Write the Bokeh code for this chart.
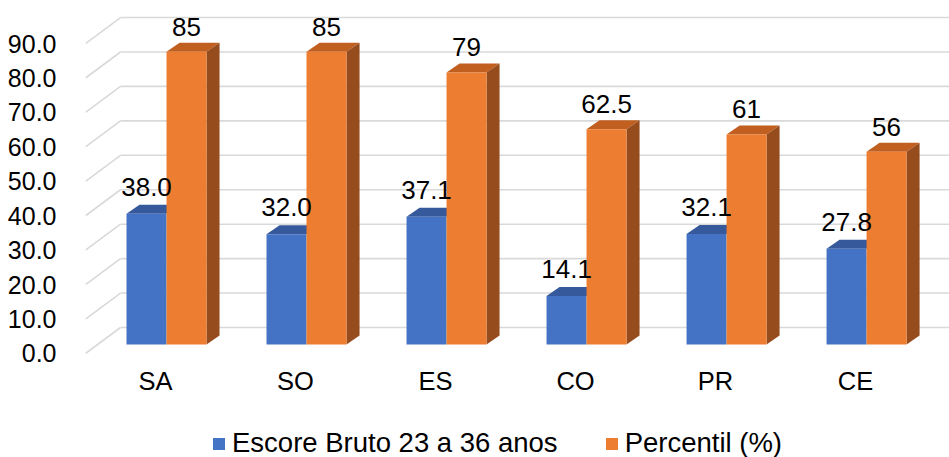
from bokeh.plotting import figure
from bokeh.models import FixedTicker, PrintfTickFormatter, Legend, LegendItem
from bokeh.core.properties import value
from bokeh.embed import file_html
from bokeh.resources import INLINE

categories = ["SA", "SO", "ES", "CO", "PR", "CE"]
escore = [38.0, 32.0, 37.1, 14.1, 32.1, 27.8]
percentil = [85, 85, 79, 62.5, 61, 56]
y_ticks = [0, 10, 20, 30, 40, 50, 60, 70, 80, 90]
series_names = ["Escore Bruto 23 a 36 anos", "Percentil (%)"]

FONT = "Liberation Sans"
BLUE, BLUE_TOP = "#4472C4", "#35599A"
ORANGE, ORANGE_TOP, ORANGE_SIDE = "#ED7D31", "#C05F1F", "#974C1D"
GRID = "#D9D9D9"

# 3D geometry (data units)
DX, DY = 0.25, 7.55      # wall depth
SX, SY = 0.0786, 2.61    # bar front-face offset
BDX, BDY = 0.093, 2.61   # bar depth
W = 0.2857               # bar width

p = figure(width=949, height=457, x_range=(-0.5, 5.671), y_range=(-30.2, 102.5),
           output_backend="svg", toolbar_location=None,
           min_border_left=85, min_border_right=0, min_border_top=0, min_border_bottom=0)
p.outline_line_color = None
p.grid.visible = False

# y axis
p.yaxis.ticker = FixedTicker(ticks=y_ticks)
p.yaxis.formatter = PrintfTickFormatter(format="%.1f")
p.yaxis.axis_line_color = None
p.yaxis.major_tick_line_color = None
p.yaxis.minor_tick_line_color = None
p.yaxis.major_label_standoff = 23
p.yaxis.major_label_text_font = FONT
p.yaxis.major_label_text_font_size = "25px"
p.yaxis.major_label_text_color = "#000000"

# x axis (drawn at value 0 of the front plane)
idx = list(range(len(categories)))
p.xaxis.ticker = FixedTicker(ticks=idx)
p.xaxis.major_label_overrides = {i: c for i, c in zip(idx, categories)}
p.xaxis.fixed_location = 0
p.xaxis.axis_line_color = None
p.xaxis.major_tick_line_color = None
p.xaxis.minor_tick_line_color = None
p.xaxis.major_label_standoff = 8
p.xaxis.major_label_text_font = FONT
p.xaxis.major_label_text_font_size = "25.5px"
p.xaxis.major_label_text_color = "#000000"

# gridlines: side diagonals and back wall
left = p.x_range.start
p.segment(x0=[left] * len(y_ticks), y0=y_ticks,
          x1=[left + DX] * len(y_ticks), y1=[t + DY for t in y_ticks],
          line_color=GRID, line_width=1.6)
p.segment(x0=[left + DX] * len(y_ticks), y0=[t + DY for t in y_ticks],
          x1=[7.0] * len(y_ticks), y1=[t + DY for t in y_ticks],
          line_color=GRID, line_width=1.6)

def top_faces(xl, vals):
    xs, ys = [], []
    for x, v in zip(xl, vals):
        xs.append([x, x + W, x + W + BDX, x + BDX])
        ys.append([v + SY, v + SY, v + SY + BDY, v + SY + BDY])
    return xs, ys

def side_faces(xl, vals):
    xs, ys = [], []
    for x, v in zip(xl, vals):
        xr = x + W
        xs.append([xr, xr, xr + BDX, xr + BDX])
        ys.append([SY, v + SY, v + SY + BDY, SY + BDY])
    return xs, ys

blue_left = [i + SX - W for i in idx]
orange_left = [i + SX for i in idx]

# blue bars
bx, by = top_faces(blue_left, escore)
p.patches(bx, by, fill_color=BLUE_TOP, line_color=None)
r_blue = p.quad(left=blue_left, right=[x + W for x in blue_left],
                bottom=[SY] * len(idx), top=[v + SY for v in escore],
                fill_color=BLUE, line_color=None)

# orange bars
ox, oy = top_faces(orange_left, percentil)
p.patches(ox, oy, fill_color=ORANGE_TOP, line_color=None)
sx_, sy_ = side_faces(orange_left, percentil)
p.patches(sx_, sy_, fill_color=ORANGE_SIDE, line_color=None)
r_orange = p.quad(left=orange_left, right=[x + W for x in orange_left],
                  bottom=[SY] * len(idx), top=[v + SY for v in percentil],
                  fill_color=ORANGE, line_color=None)

# data labels
p.text(x=[x + W / 2 for x in blue_left], y=[v + SY for v in escore],
       text=[f"{v:.1f}" for v in escore],
       text_font=value(FONT), text_font_size=value("26px"), text_color="#000000",
       text_align="center", text_baseline="alphabetic", y_offset=-27)
p.text(x=[x + W / 2 for x in orange_left], y=[v + SY for v in percentil],
       text=[f"{v:g}" for v in percentil],
       text_font=value(FONT), text_font_size=value("26px"), text_color="#000000",
       text_align="center", text_baseline="alphabetic", y_offset=-25)

legend = Legend(items=[LegendItem(label=series_names[0], renderers=[r_blue]),
                       LegendItem(label=series_names[1], renderers=[r_orange])],
                orientation="horizontal", location=(126, -2),
                glyph_width=15, glyph_height=15, label_standoff=6, spacing=46,
                padding=0, margin=0, border_line_color=None, background_fill_alpha=0,
                label_text_font=FONT, label_text_font_size="27.5px", label_text_color="#000000")
p.add_layout(legend, "center")

open("out.html", "w").write(file_html(p, INLINE))
